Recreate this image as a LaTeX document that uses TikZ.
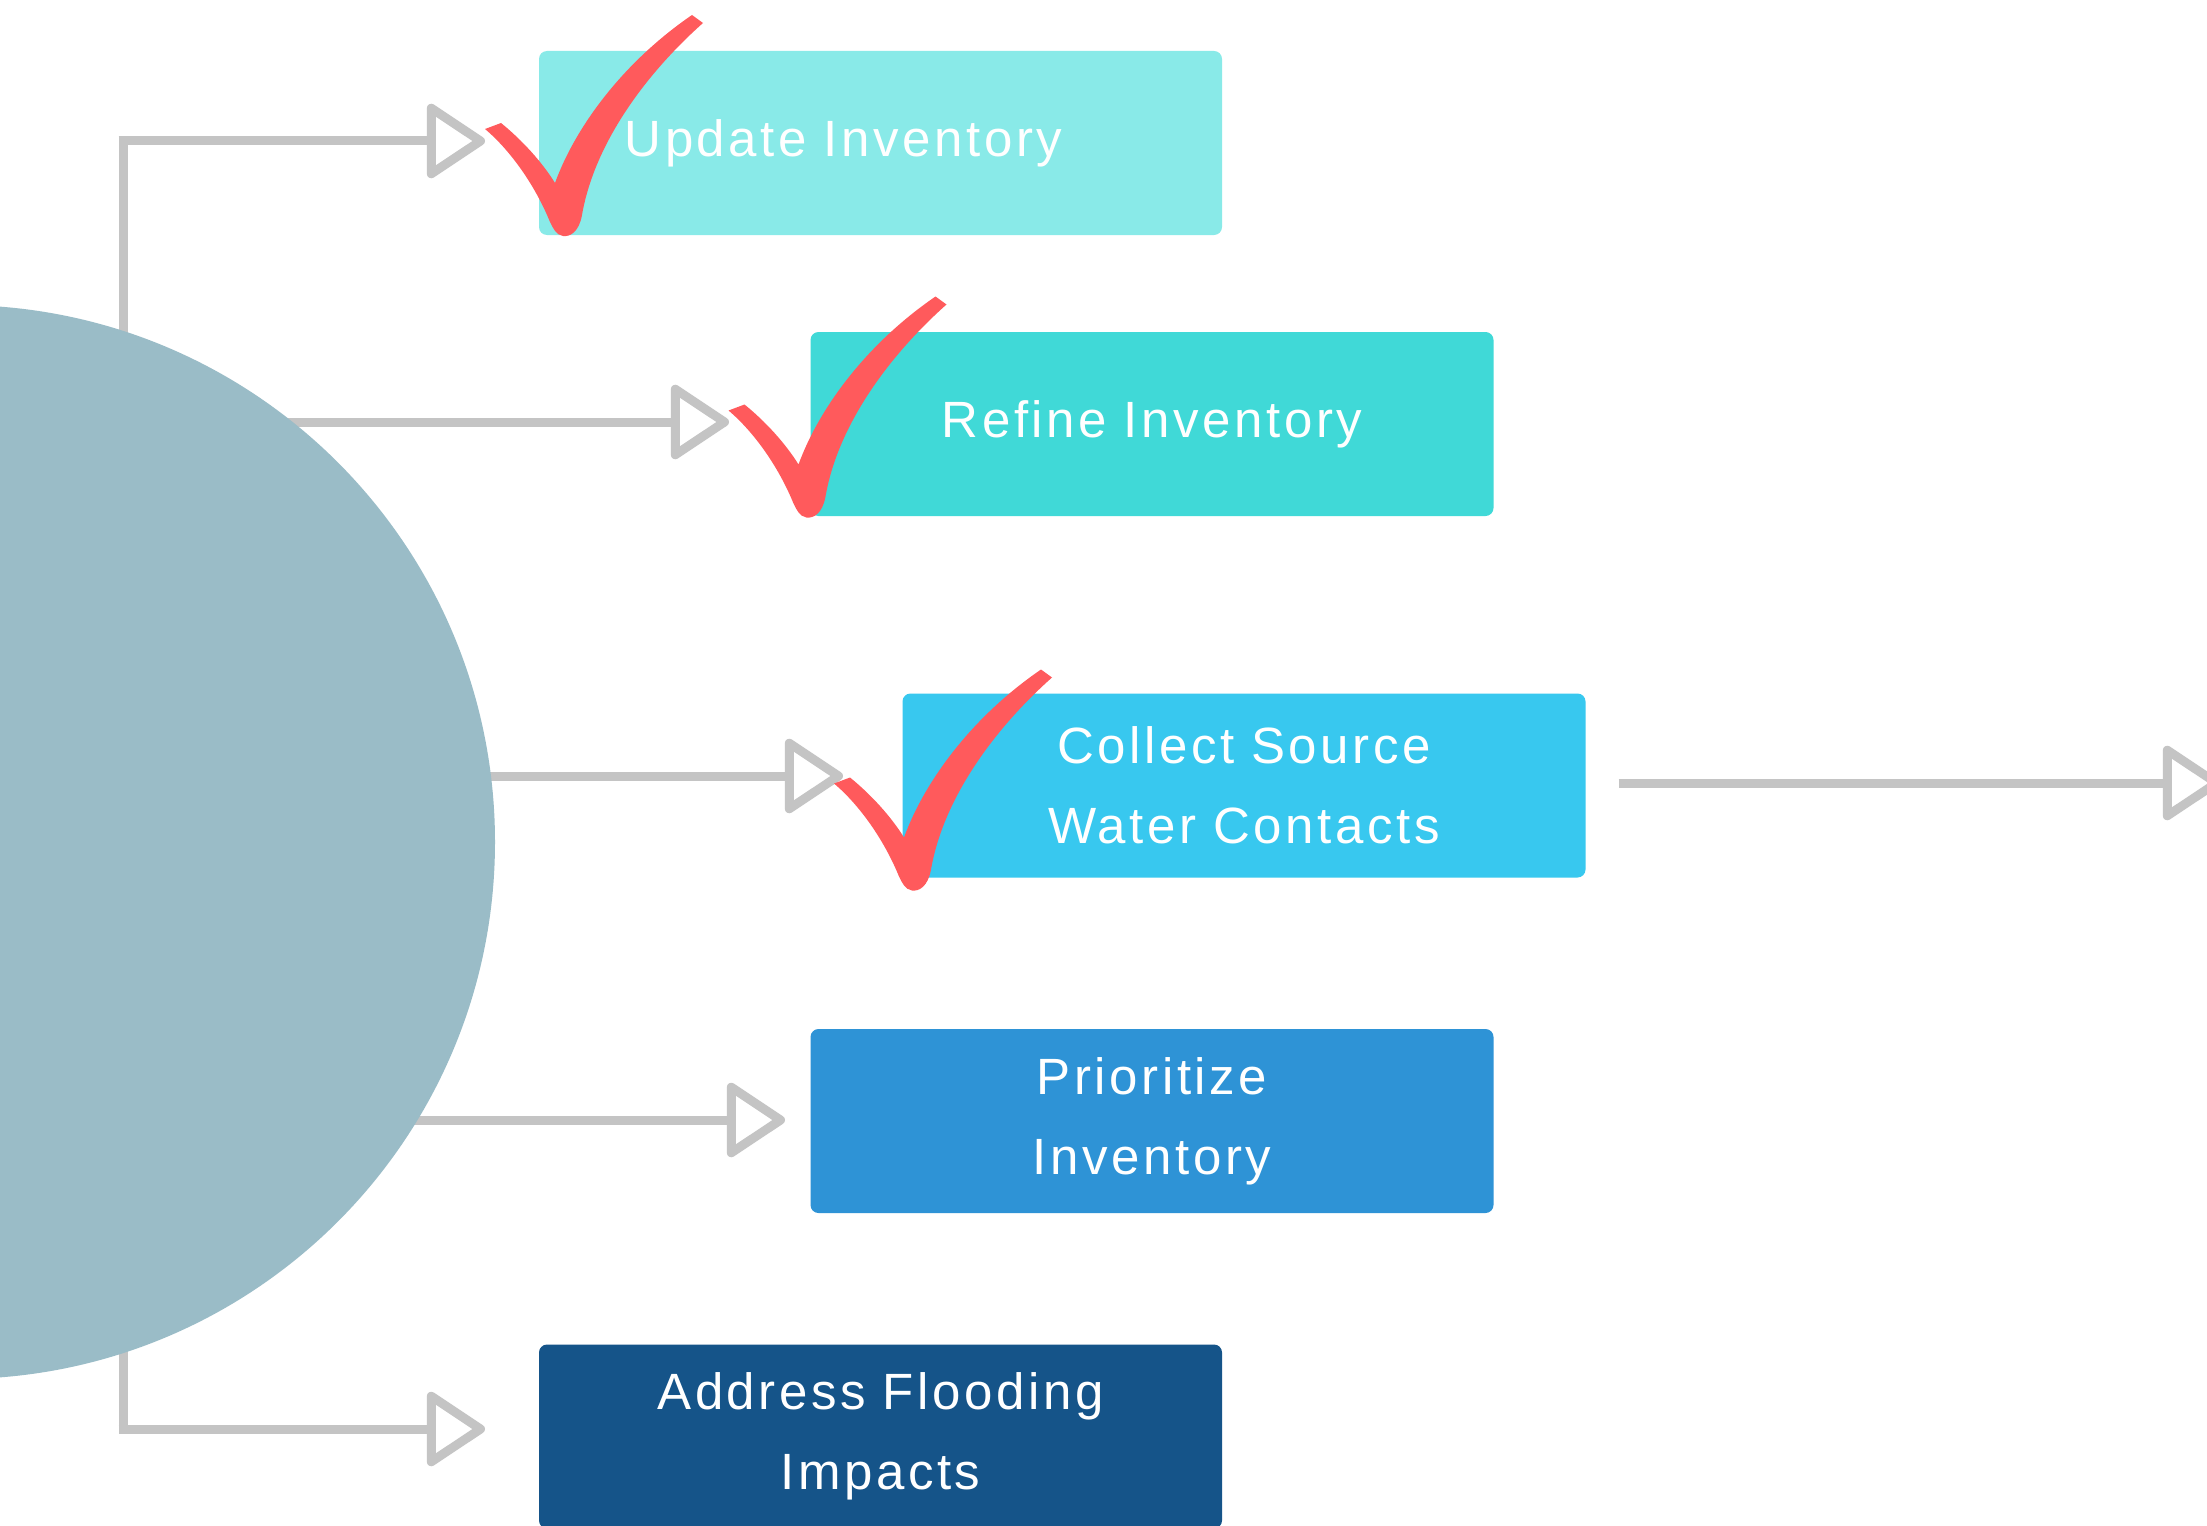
\documentclass[tikz,border=0pt]{standalone}
\usepackage{fontspec}
\setmainfont{Liberation Sans}[LetterSpace=7]
\usetikzlibrary{arrows.meta}
\definecolor{linegray}{HTML}{C4C4C4}
\definecolor{tickred}{HTML}{FF5A5C}
\definecolor{hubcol}{HTML}{9ABCC7}
\definecolor{cupd}{HTML}{89EAE8}
\definecolor{cref}{HTML}{40D9D7}
\definecolor{ccol}{HTML}{38C8EF}
\definecolor{cpri}{HTML}{2E93D6}
\definecolor{cadr}{HTML}{155489}
\begin{document}
\begin{tikzpicture}[x=1pt,y=-1pt,
  box/.style={rectangle, rounded corners=8pt, minimum width=683pt, minimum height=184pt,
    inner sep=0pt, text=white, font=\fontsize{51}{80}\selectfont, align=center, text width=683pt},
  gline/.style={draw=linegray, line width=9pt},
  conn/.style={gline, -{Triangle[open,length=62pt,width=80pt,line join=round]}},
  redtick/.pic={\fill[tickred] (485,129) -- (501,123)
     .. controls (522,140) and (542,162) .. (555,183)
     .. controls (575,128) and (622,63) .. (692,15) -- (703,23)
     .. controls (650,70) and (595,140) .. (582,215)
     .. controls (579,232) and (570,237) .. (563,236)
     .. controls (556,235) and (553,228) .. (550,222)
     .. controls (535,185) and (510,150) .. cycle;}
]
\useasboundingbox (0,0) rectangle (2207,1525);
\fill[white] (0,0) rectangle (2207,1525);

% bus and connector coordinates
\coordinate (vtop) at (123,136.5);
\coordinate (vbot) at (123,1433.5);
\coordinate (b1) at (118.5,141);
\coordinate (b2) at (123,422);
\coordinate (b3) at (123,776);
\coordinate (b4) at (123,1120);
\coordinate (b5) at (118.5,1429);
\coordinate (t1) at (485,141);
\coordinate (t2) at (729,422);
\coordinate (t3) at (843,776);
\coordinate (t4) at (785,1120);
\coordinate (t5) at (485,1429);

\draw[gline] (vtop) -- (vbot);
\draw[conn] (b1) -- (t1);
\draw[conn] (b2) -- (t2);
\draw[conn] (b3) -- (t3);
\draw[conn] (b4) -- (t4);
\draw[conn] (b5) -- (t5);

% hub
\node[circle, fill=hubcol, minimum size=1074pt, inner sep=0pt] (hub) at (-42,842) {};

% boxes
\node[box, fill=cupd] (upd) at (880.5,143) {\hspace*{-74pt}Update Inventory};
\node[box, fill=cref] (ref) at (1152,424) {Refine Inventory};
\node[box, fill=ccol] (col) at (1244,785.5) {Collect Source\\Water Contacts};
\node[box, fill=cpri] (pri) at (1152,1121) {Prioritize\\Inventory};
\node[box, fill=cadr] (adr) at (880.5,1436.5) {Address Flooding\\Impacts};

\coordinate (out) at (2221,783);
\draw[conn] ([xshift=33pt,yshift=2.5pt]col.east) -- (out);

% check marks
\pic at (0,0) {redtick};
\pic at (243.5,281.5) {redtick};
\pic at (349,654.5) {redtick};
\end{tikzpicture}
\end{document}
